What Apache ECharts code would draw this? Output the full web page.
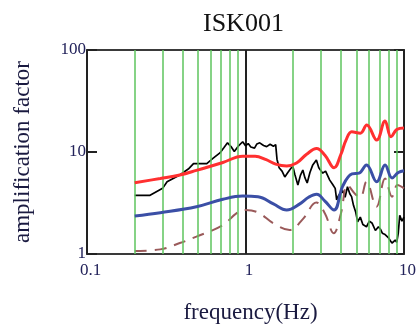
<!DOCTYPE html>
<html>
<head>
<meta charset="utf-8">
<script src="https://cdn.jsdelivr.net/npm/echarts@6/dist/echarts.min.js"></script>
<style>html,body{margin:0;padding:0;background:#fff;}#c{width:416px;height:328px;}</style>
</head>
<body>
<div id="c"></div>
<script>
var gridFreqs = [0.2,0.3,0.4,0.5,0.6,0.7,0.8,0.9,2,3,4,5,6,7,8,9];

var redF = [0.2,0.29,0.385,0.49,0.72,0.96,1.15,1.35,1.55,1.82,2.1,2.43,2.81,3.17,3.62,4.0,4.3,4.68,5.3,5.82,6.73,7.59,8.28,9.0,10];
var redV = [5.0,5.5,5.95,6.6,7.9,9.1,9.1,8.4,7.6,7.3,7.8,9.5,10.8,9.3,7.0,9.5,13.0,15.8,15.3,18.4,13.1,20.1,14.1,16.6,17.2];

var blueF = [0.2,0.29,0.49,0.72,0.96,1.2,1.5,1.82,2.2,2.5,2.81,3.17,3.62,4.1,4.7,5.2,5.8,6.73,7.6,8.4,9.2,10];
var blueV = [2.36,2.54,2.9,3.44,3.7,3.65,3.1,2.7,3.1,3.6,3.85,3.3,2.7,4.6,6.1,6.2,7.46,5.1,7.46,5.56,6.3,6.56];

var brownF = [0.2,0.29,0.385,0.49,0.72,0.88,1.0,1.2,1.5,1.9,2.3,2.8,3.17,3.6,4.0,4.4,4.9,5.3,5.8,6.7,7.6,8.4,9.1,10];
var brownV = [1.07,1.11,1.28,1.48,1.92,2.52,2.7,2.55,2.0,1.72,2.2,3.2,2.5,1.6,2.5,4.75,3.9,3.6,5.1,2.9,5.5,3.65,4.75,4.4];

var blackF = [0.2,0.25,0.3,0.32,0.385,0.44,0.47,0.52,0.57,0.62,0.69,0.73,0.77,0.81,0.85,0.9,0.96,1.0,1.04,1.08,1.14,1.18,1.23,1.3,1.36,1.43,1.5,1.55,1.58,1.63,1.7,1.77,1.85,1.93,1.99,2.05,2.14,2.22,2.3,2.37,2.45,2.55,2.65,2.8,2.9,3.07,3.2,3.4,3.55,3.68,3.76,3.85,3.94,4.1,4.25,4.4,4.55,4.67,4.8,4.95,5.1,5.3,5.5,5.8,6.05,6.3,6.6,6.9,7.1,7.3,7.6,7.96,8.2,8.4,8.6,8.8,9.0,9.2,9.4,9.7,10];
var blackV = [3.76,3.76,4.4,5.1,5.95,6.9,7.7,7.7,7.7,8.6,9.8,11.0,12.3,11.3,10.1,11.4,12.6,11.5,12.1,11.2,10.9,12.0,12.3,11.6,11.3,11.9,11.4,11.8,8.5,7.0,6.5,5.7,6.3,6.9,7.2,6.0,4.75,5.9,6.66,5.6,4.97,6.3,7.4,8.35,7.0,6.2,6.5,5.3,4.8,4.4,3.4,3.7,3.9,4.2,3.6,4.57,3.9,3.65,3.0,2.6,2.07,2.3,1.95,1.85,2.1,2.0,1.7,1.85,1.75,1.6,1.55,1.45,1.35,1.28,1.25,1.37,1.3,1.6,2.4,2.1,2.3];

var xTicks = [0.1, 1, 10];
var yTicks = [1, 10, 100];

function pairs(f, v) { return f.map(function (x, i) { return [x, v[i]]; }); }

var serif = '"Liberation Serif", "DejaVu Serif", serif';
var chart = echarts.init(document.getElementById('c'), null, {renderer: 'canvas'});
chart.setOption({
  animation: false,
  backgroundColor: '#fff',
  title: {
    text: 'ISK001',
    left: 203, top: 11, padding: 0,
    textStyle: {fontFamily: serif, fontSize: 26, fontWeight: 'normal', color: '#111'}
  },
  grid: {left: 87, right: 12, top: 50, bottom: 74, show: true, containLabel: false, outerBoundsMode: 'none',
         borderColor: '#3a3a3a', borderWidth: 2, backgroundColor: 'transparent'},
  xAxis: {
    type: 'log', logBase: 10, min: xTicks[0], max: xTicks[2],
    name: 'frequency(Hz)', nameLocation: 'middle', nameGap: 47,
    nameTextStyle: {fontFamily: serif, fontSize: 23, color: '#1a1a40', padding: [0, 0, 0, 10]},
    axisLine: {show: false},
    axisTick: {show: false},
    axisLabel: {
      fontFamily: serif, fontSize: 17, color: '#22225a', margin: 8, padding: [0, 0, 0, 7],
      formatter: function (v) { return xTicks.indexOf(+v.toPrecision(3)) >= 0 ? String(+v.toPrecision(3)) : ''; }
    },
    splitLine: {show: true, lineStyle: {color: '#222', width: 2}},
    minorTick: {show: false}
  },
  yAxis: [{
    type: 'log', logBase: 10, min: yTicks[0], max: yTicks[2],
    name: 'amplification factor', nameLocation: 'middle', nameGap: 53,
    nameTextStyle: {fontFamily: serif, fontSize: 23, color: '#1a1a40'},
    axisLine: {show: false},
    axisTick: {show: true, inside: true, length: 10, lineStyle: {color: '#222', width: 2}},
    axisLabel: {
      fontFamily: serif, fontSize: 17, color: '#22225a', margin: 1,
      formatter: function (v) { return String(+v.toPrecision(3)); }
    },
    splitLine: {show: false}
  }, {
    type: 'log', logBase: 10, min: yTicks[0], max: yTicks[2], position: 'right',
    axisLine: {show: false},
    axisTick: {show: true, inside: true, length: 10, lineStyle: {color: '#222', width: 2}},
    axisLabel: {show: false},
    splitLine: {show: false}
  }],
  series: [
    {
      type: 'line', data: [], z: 1, silent: true,
      markLine: {
        silent: true, symbol: ['none', 'none'], label: {show: false},
        lineStyle: {color: '#5ec45e', width: 1.5, type: 'solid'},
        data: gridFreqs.map(function (f) { return {xAxis: f}; }),
        animation: false
      }
    },
    {
      type: 'line', data: pairs(blackF, blackV), showSymbol: false, z: 3,
      lineStyle: {color: '#000', width: 1.7}
    },
    {
      type: 'line', data: pairs(brownF, brownV), showSymbol: false, smooth: 0.4, z: 4,
      lineStyle: {color: '#9a5a5a', width: 2, type: [12, 8]}
    },
    {
      type: 'line', data: pairs(blueF, blueV), showSymbol: false, smooth: 0.4, z: 5,
      lineStyle: {color: '#3b4fa6', width: 3}
    },
    {
      type: 'line', data: pairs(redF, redV), showSymbol: false, smooth: 0.4, z: 6,
      lineStyle: {color: '#ff3030', width: 3}
    }
  ]
});
</script>
</body>
</html>
